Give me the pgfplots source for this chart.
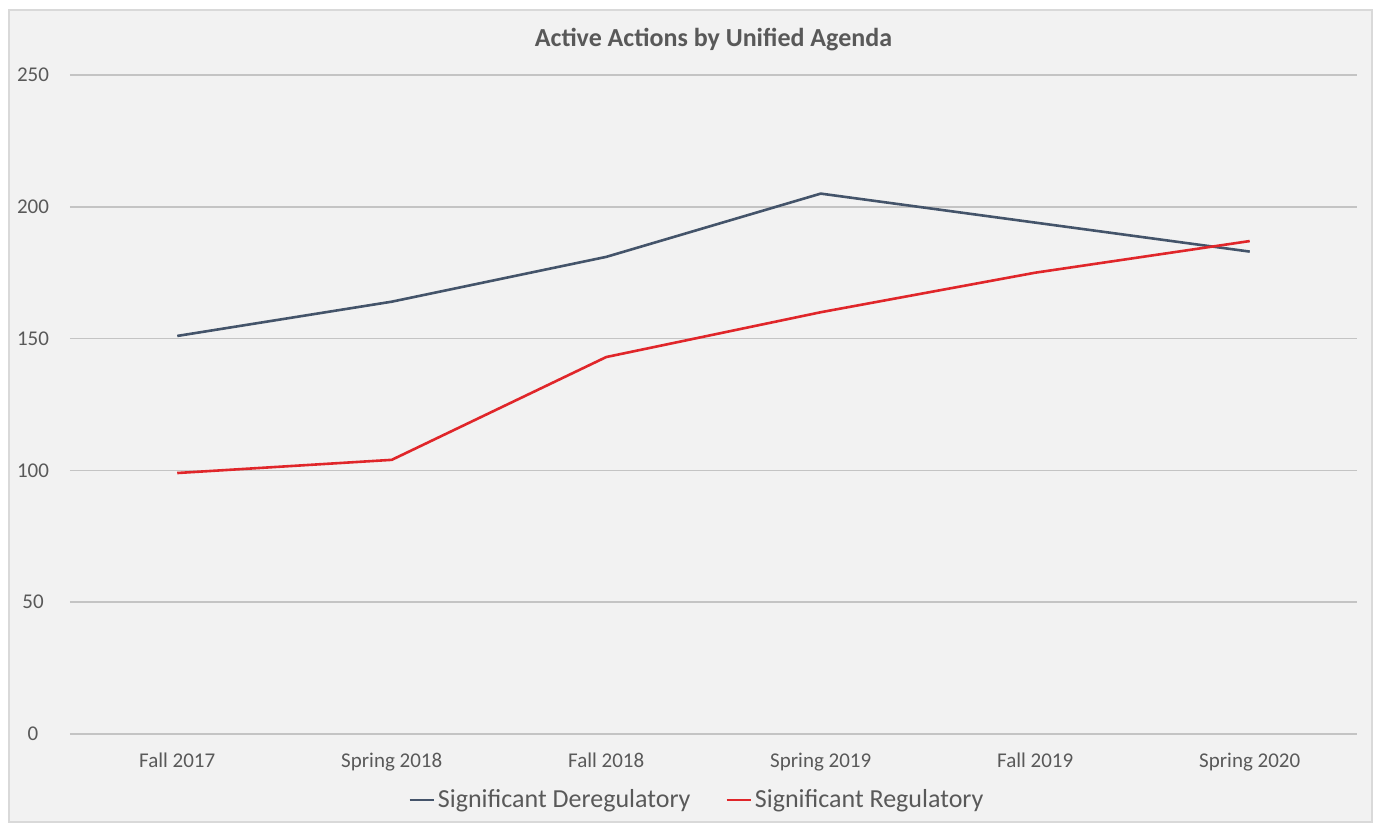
\documentclass[border=0pt]{standalone}
\usepackage{pgfplots}
\pgfplotsset{compat=1.18}
\usepackage{fontspec}
\setmainfont{Carlito}
\definecolor{bgc}{HTML}{F2F2F2}
\definecolor{framec}{HTML}{D9D9D9}
\definecolor{gridc}{HTML}{C4C4C4}
\definecolor{txtc}{HTML}{595959}
\definecolor{dereg}{HTML}{44546A}
\definecolor{reg}{HTML}{E0262A}
\begin{document}
\begin{tikzpicture}
\useasboundingbox (0,0) rectangle (688pt,411.5pt);
\fill[white] (0,0) rectangle (688pt,411.5pt);
\filldraw[fill=bgc, draw=framec, line width=0.6pt] (4.5pt,0.5pt) rectangle (686pt,406.5pt);
\begin{axis}[
  at={(35pt,44.5pt)}, anchor=south west,
  scale only axis, width=643.5pt, height=329.5pt,
  xmin=-0.5, xmax=5.5, ymin=0, ymax=250,
  xtick={0,1,2,3,4,5},
  xticklabels={Fall 2017,Spring 2018,Fall 2018,Spring 2019,Fall 2019,Spring 2020},
  ytick={0,50,100,150,200,250},
  ymajorgrids, major grid style={gridc, line width=0.75pt},
  axis line style={draw=none},
  major tick length=0pt,
  tick label style={font=\fontsize{10.5}{12}\selectfont, text=txtc},
  /pgf/number format/assume math mode=true,
  xticklabel style={anchor=center, yshift=-14.5pt, text height=7pt, text depth=2pt},
  yticklabel style={anchor=center, xshift=-18.5pt},
  title={Active Actions by Unified Agenda},
  title style={at={(0.5,1)}, anchor=center, yshift=11.5pt, font=\bfseries\fontsize{13}{15}\selectfont, text=txtc},
  legend style={at={(0.5,0)}, anchor=center, yshift=-33pt, xshift=-8pt, draw=none, fill=none,
    font=\fontsize{13}{15}\selectfont, text=txtc, legend cell align=left,
    /tikz/every even column/.append style={column sep=16pt},
    /tikz/every odd column/.append style={column sep=0pt},
    nodes={inner xsep=1.5pt}},
  legend columns=-1,
  legend image code/.code={\draw[#1, line width=1.2pt] (0pt,0pt) -- (12pt,0pt);},
  clip=false,
]
\addplot[dereg, line width=1.3pt] coordinates {(0,151) (1,164) (2,181) (3,205) (4,194) (5,183)};
\addlegendentry{Significant Deregulatory}
\addplot[reg, line width=1.3pt] coordinates {(0,99) (1,104) (2,143) (3,160) (4,175) (5,187)};
\addlegendentry{Significant Regulatory}
\end{axis}
\end{tikzpicture}
\end{document}
